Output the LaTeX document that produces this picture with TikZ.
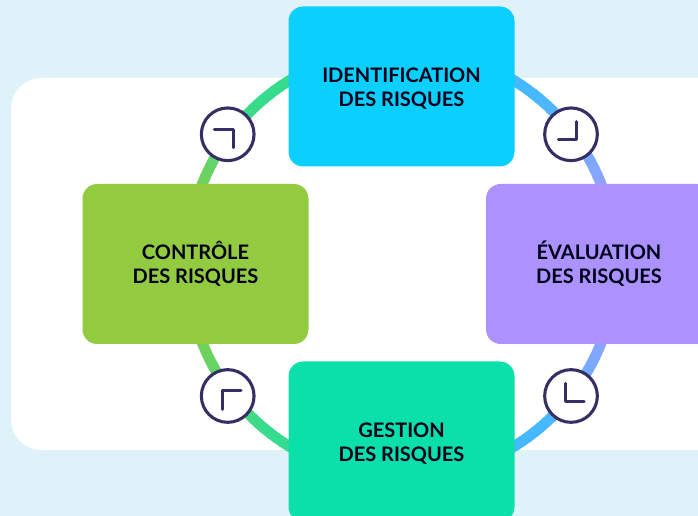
\documentclass[tikz,border=0pt]{standalone}
\usepackage{fontspec}
\setmainfont{Lato}
\definecolor{skybg}{HTML}{DFF2F9}
\definecolor{inkblue}{HTML}{352D63}
\definecolor{ringblue}{HTML}{45B8FF}
\definecolor{ringviolet}{HTML}{9C9FFF}
\definecolor{ringmint}{HTML}{35DC8E}
\definecolor{ringlime}{HTML}{80CF4E}
\tikzstyle{riskbox} = [rectangle, minimum width = 169.5pt, minimum height = 120pt,
	rounded corners = 11pt, align = center, text = black!90!blue,
	font = \fontsize{15pt}{18pt}\bfseries\selectfont]
\tikzstyle{clockface} = [circle, draw = inkblue, fill = white, line width = 2.3pt,
	minimum size = 39.5pt, inner sep = 0pt]
\tikzstyle{hand} = [draw = inkblue, line width = 2.25pt, line cap = round, line join = round]

\begin{document}
\begin{tikzpicture}[x = 0.75pt, y = 0.75pt]

\useasboundingbox (0,0) rectangle (698,516);
\clip (0,0) rectangle (698,516);

% background
\fill [skybg] (0,0) rectangle (698,516);
\fill [white, rounded corners = 23pt] (11,66) rectangle (760,438);

% ring
\coordinate (ring) at (401.7,252.5);
\foreach \a in {-72,-70,...,72}
{
	\pgfmathsetmacro{\mixval}{max(0,min(100,(abs(\a)-15)*100/35))}
	\draw [ringblue!\mixval!ringviolet, line width = 8pt]
		(ring) ++(\a:161pt) arc [start angle = \a, end angle = \a+2.4, radius = 161pt];
	\draw [ringmint!\mixval!ringlime, line width = 8pt]
		(ring) ++(180+\a:161pt) arc [start angle = 180+\a, end angle = 180+\a+2.4, radius = 161pt];
}

% boxes
\node (R0) [riskbox, fill = {rgb,255:red,11;green,207;blue,255}] at (401.5,429.5)
	{\vphantom{É}IDENTIFICATION\\DES RISQUES};
\node (R1) [riskbox, fill = {rgb,255:red,171;green,146;blue,255}] at (599,252)
	{ÉVALUATION\\DES RISQUES};
\node (R2) [riskbox, fill = {rgb,255:red,11;green,224;blue,171}] at (401.5,74.5)
	{\vphantom{É}GESTION\\DES RISQUES};
\node (R3) [riskbox, fill = {rgb,255:red,146;green,203;blue,63}] at (195.5,252)
	{CONTRÔLE\\DES RISQUES};

% clocks
\node (C0) [clockface] at (571,381.7) {};
\node (C1) [clockface] at (571,120) {};
\node (C2) [clockface] at (227.7,120) {};
\node (C3) [clockface] at (227.7,381.7) {};

\draw [hand] ([shift = {(5.7,12.6)}]C0.center) -- ([shift = {(5.7,-5.7)}]C0.center)
	-- ([shift = {(-12.7,-5.7)}]C0.center);
\draw [hand] ([shift = {(-5.3,12.7)}]C1.center) -- ([shift = {(-5.3,-5.7)}]C1.center)
	-- ([shift = {(13,-5.7)}]C1.center);
\draw [hand] ([shift = {(-5.7,-13.3)}]C2.center) -- ([shift = {(-5.7,5)}]C2.center)
	-- ([shift = {(13.3,5)}]C2.center);
\draw [hand] ([shift = {(-13.4,5)}]C3.center) -- ([shift = {(5.3,5)}]C3.center)
	-- ([shift = {(5.3,-13.4)}]C3.center);
\end{tikzpicture}
\end{document}
